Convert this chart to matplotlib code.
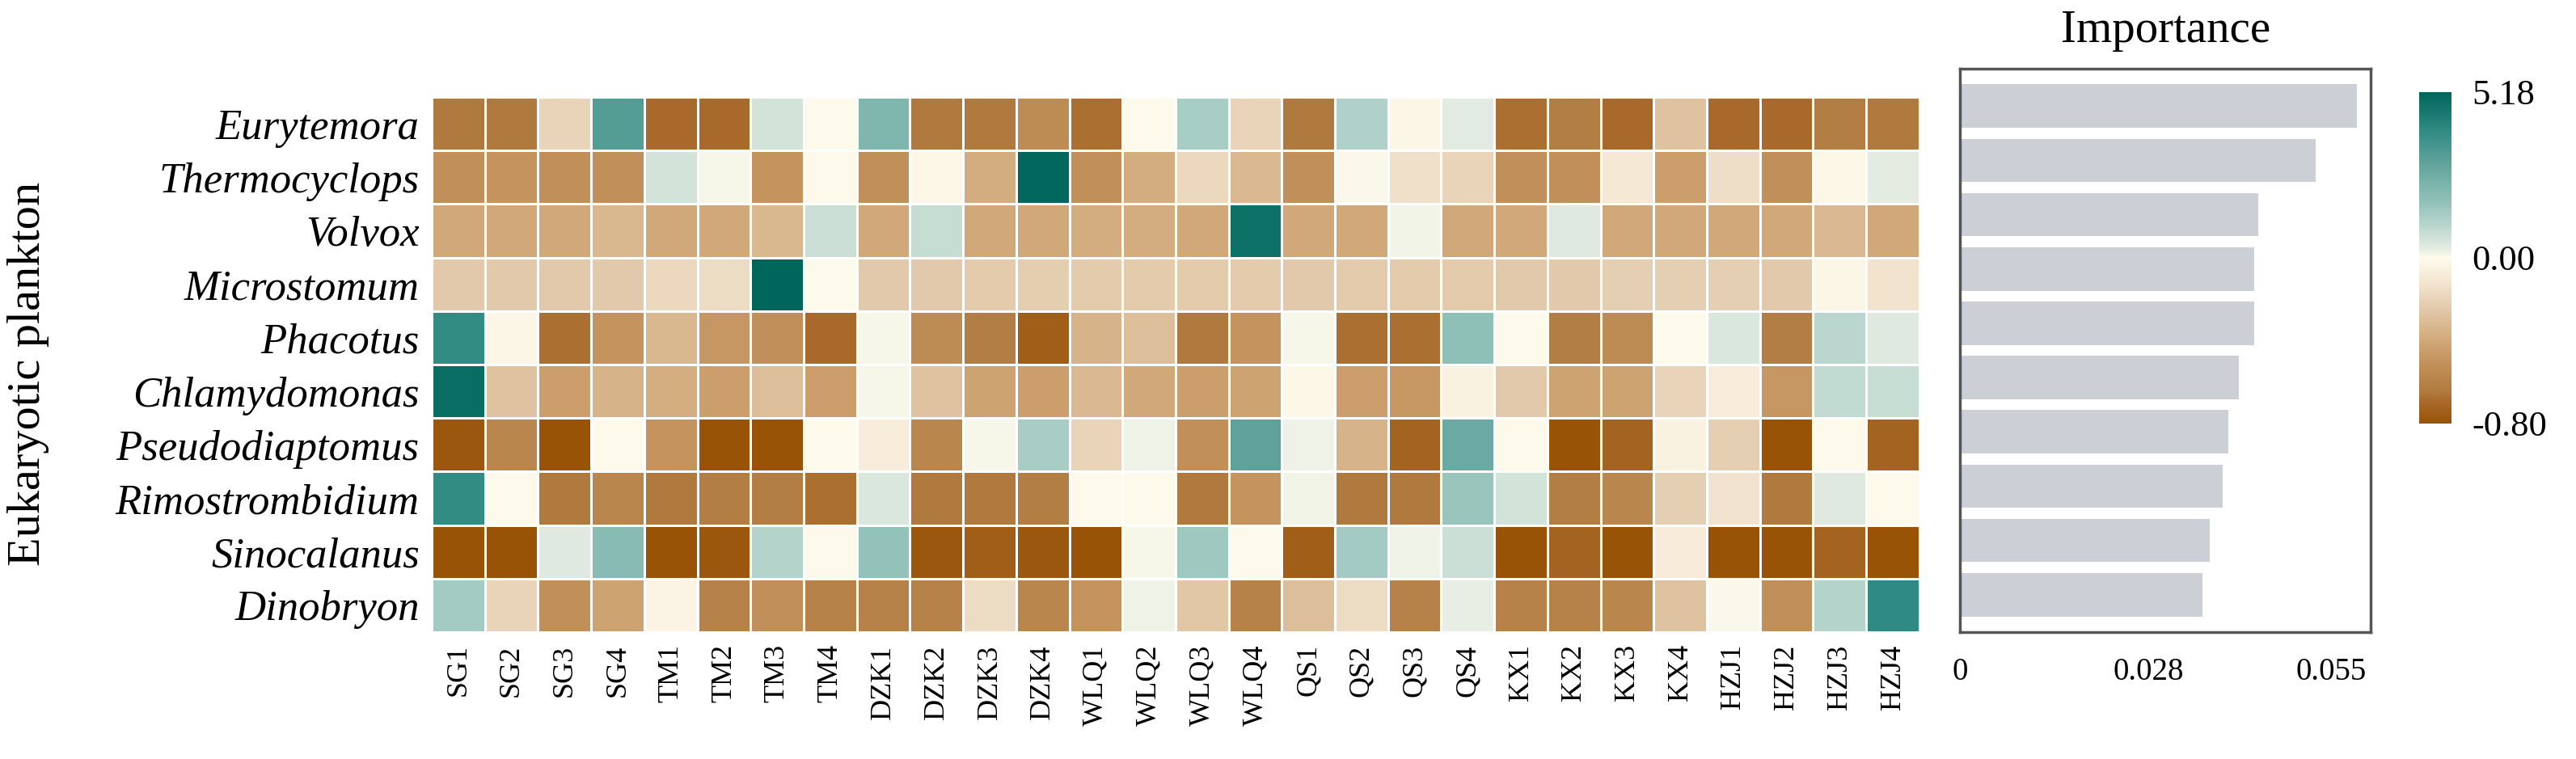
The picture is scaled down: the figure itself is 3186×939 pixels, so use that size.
import numpy as np
import matplotlib
matplotlib.use("Agg")
import matplotlib.pyplot as plt
from matplotlib.colors import LinearSegmentedColormap, TwoSlopeNorm

plt.rcParams['font.family'] = ['Liberation Serif', 'DejaVu Serif']

# taxa (rows, top to bottom) and sampling sites (columns)
taxa = ['Eurytemora', 'Thermocyclops', 'Volvox', 'Microstomum', 'Phacotus',
        'Chlamydomonas', 'Pseudodiaptomus', 'Rimostrombidium', 'Sinocalanus', 'Dinobryon']
sites = ['SG1', 'SG2', 'SG3', 'SG4', 'TM1', 'TM2', 'TM3', 'TM4',
         'DZK1', 'DZK2', 'DZK3', 'DZK4', 'WLQ1', 'WLQ2', 'WLQ3', 'WLQ4',
         'QS1', 'QS2', 'QS3', 'QS4', 'KX1', 'KX2', 'KX3', 'KX4',
         'HZJ1', 'HZJ2', 'HZJ3', 'HZJ4']

# importance of each taxon (same order as taxa)
importance = [0.0589, 0.0528, 0.0442, 0.0436, 0.0436, 0.0414, 0.0398, 0.0389, 0.0370, 0.0360]

# standardised abundance per site, one list per taxon
eurytemora = [-0.65, -0.65, -0.20, 3.20, -0.70, -0.70, 0.60, 0.02, 2.20, -0.65, -0.65, -0.55, -0.68, 0.03,
              1.30, -0.20, -0.65, 1.20, -0.03, 0.35, -0.68, -0.62, -0.70, -0.28, -0.70, -0.70, -0.62, -0.65]
thermocyclops = [-0.52, -0.50, -0.52, -0.52, 0.60, 0.12, -0.50, 0.02, -0.52, -0.02, -0.38, 5.10, -0.52, -0.38,
                 -0.18, -0.32, -0.52, 0.08, -0.14, -0.20, -0.52, -0.52, -0.10, -0.45, -0.15, -0.52, -0.02, 0.30]
volvox = [-0.40, -0.40, -0.40, -0.33, -0.40, -0.40, -0.33, 0.70, -0.40, 0.80, -0.40, -0.40, -0.38, -0.38,
          -0.40, 4.80, -0.40, -0.40, 0.15, -0.40, -0.40, 0.40, -0.40, -0.40, -0.40, -0.40, -0.32, -0.40]
microstomum = [-0.25, -0.25, -0.25, -0.25, -0.18, -0.16, 5.18, 0.01, -0.25, -0.25, -0.24, -0.23, -0.24, -0.24,
               -0.24, -0.24, -0.25, -0.24, -0.24, -0.24, -0.25, -0.25, -0.22, -0.22, -0.22, -0.25, -0.03, -0.12]
phacotus = [3.90, -0.03, -0.68, -0.50, -0.33, -0.48, -0.52, -0.70, 0.12, -0.55, -0.62, -0.75, -0.35, -0.30,
            -0.65, -0.50, 0.10, -0.68, -0.68, 1.80, 0.02, -0.62, -0.55, 0.01, 0.45, -0.62, 1.00, 0.40]
chlamydomonas = [4.90, -0.28, -0.45, -0.35, -0.37, -0.45, -0.30, -0.45, 0.12, -0.28, -0.42, -0.45, -0.32, -0.40,
                 -0.45, -0.42, -0.02, -0.45, -0.48, -0.05, -0.25, -0.42, -0.42, -0.20, -0.07, -0.48, 0.85, 0.80]
pseudodiaptomus = [-0.78, -0.58, -0.80, 0.02, -0.50, -0.80, -0.80, 0.01, -0.07, -0.58, 0.10, 1.30, -0.20, 0.20,
                   -0.52, 3.00, 0.20, -0.35, -0.72, 2.70, 0.02, -0.80, -0.72, -0.05, -0.22, -0.80, 0.01, -0.72]
rimostrombidium = [3.90, 0.02, -0.65, -0.58, -0.65, -0.62, -0.62, -0.68, 0.45, -0.65, -0.65, -0.62, 0.03, 0.04,
                   -0.65, -0.50, 0.15, -0.65, -0.65, 1.60, 0.60, -0.62, -0.58, -0.22, -0.12, -0.65, 0.40, 0.04]
sinocalanus = [-0.80, -0.80, 0.40, 2.00, -0.80, -0.78, 1.10, 0.02, 1.70, -0.78, -0.75, -0.78, -0.80, 0.10,
               1.50, 0.02, -0.75, 1.40, 0.20, 0.70, -0.80, -0.72, -0.80, -0.08, -0.80, -0.80, -0.72, -0.80]
dinobryon = [1.40, -0.20, -0.52, -0.42, -0.04, -0.60, -0.52, -0.60, -0.60, -0.60, -0.16, -0.58, -0.50, 0.20,
             -0.26, -0.60, -0.30, -0.16, -0.60, 0.25, -0.60, -0.60, -0.58, -0.28, 0.08, -0.52, 1.10, 4.00]

vals = np.array([eurytemora, thermocyclops, volvox, microstomum, phacotus,
                 chlamydomonas, pseudodiaptomus, rimostrombidium, sinocalanus, dinobryon])

vmin, vmax = -0.80, 5.18

# brown - cream - teal palette
cmap = LinearSegmentedColormap.from_list('brtl', [
    (0.0, '#985306'), (0.0625, '#A8692A'), (0.094, '#B07A3E'), (0.1875, '#C4935E'),
    (0.25, '#D1A878'), (0.344, '#E2C9AA'), (0.4375, '#F5E8D5'), (0.5, '#FFFBEC'),
    (0.529, '#E4ECE2'), (0.597, '#B9D6CE'), (0.674, '#8FC0B8'), (0.79, '#5FA39A'),
    (0.886, '#2E8A82'), (1.0, '#00665C')])
norm = TwoSlopeNorm(vmin=vmin, vcenter=0.0, vmax=vmax)

fig = plt.figure(figsize=(31.86, 9.39), dpi=100)

# heatmap
ax = fig.add_axes([0.1676, 0.1672, 0.5775, 0.705])
mesh = ax.pcolormesh(vals, cmap=cmap, norm=norm, edgecolors='white', linewidth=1.8)
ax.set_xlim(0, len(sites))
ax.set_ylim(len(taxa), 0)
ax.set_xticks(np.arange(len(sites)) + 0.5)
ax.set_xticklabels(sites, rotation=90, fontsize=26)
ax.set_yticks(np.arange(len(taxa)) + 0.5)
ax.set_yticklabels(taxa, fontsize=38, style='italic')
ax.tick_params(length=0, pad=11)
for s in ax.spines.values():
    s.set_visible(False)

fig.text(0.011, 0.507, 'Eukaryotic plankton', rotation=90, fontsize=42,
         ha='center', va='center')

# importance bars
ax2 = fig.add_axes([0.7608, 0.1672, 0.1595, 0.7423])
ax2.barh(np.arange(len(taxa)), importance, height=0.8, color='#CDCFD6')
ax2.set_ylim(len(taxa) - 0.31, -0.69)
ax2.set_xlim(0, 0.0609)
ax2.set_xticks([0, 0.028, 0.055])
ax2.set_xticklabels(['0', '0.028', '0.055'], fontsize=28)
ax2.set_yticks([])
ax2.tick_params(length=0, pad=22)
for s in ax2.spines.values():
    s.set_color('#555555')
    s.set_linewidth(2.5)
fig.text(0.8406, 0.96, 'Importance', fontsize=41, ha='center', va='center')

# colorbar
cax = fig.add_axes([0.9391, 0.442, 0.0126, 0.4366])
cb = fig.colorbar(mesh, cax=cax, ticks=[vmin, 0.0, vmax])
cb.ax.set_yticklabels(['-0.80', '0.00', '5.18'])
cb.ax.tick_params(length=0, pad=18, labelsize=32)
cb.outline.set_visible(False)

fig.savefig('out.png', dpi=100, facecolor='white')
